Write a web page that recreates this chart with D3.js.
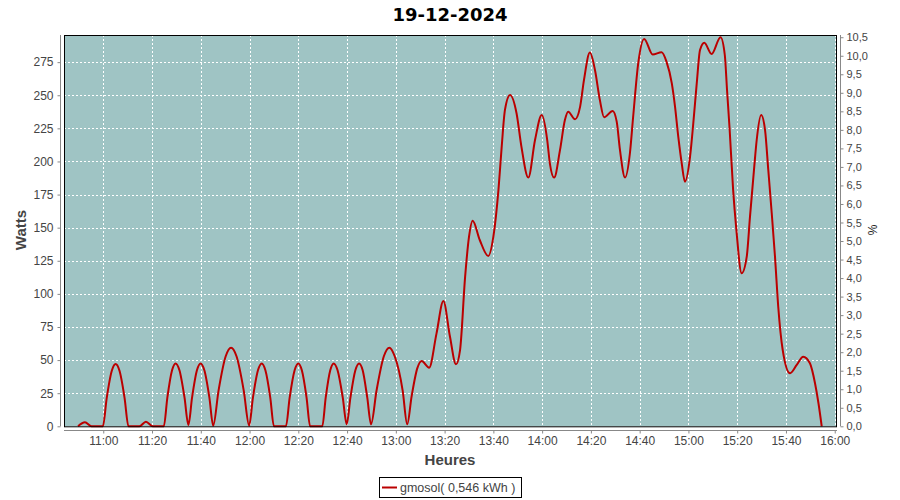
<!DOCTYPE html>
<html><head><meta charset="utf-8">
<script src="https://cdn.jsdelivr.net/npm/d3@7"></script>
<style>body{margin:0;background:#fff}svg{display:block}</style>
</head><body><svg id="c" width="900" height="500"></svg>
<script>
const title = "19-12-2024";
const seriesName = "gmosol( 0,546 kWh )";
const times = ["10:49:40","10:52:30","10:55:10","10:59:50","11:01:25","11:03:30","11:05:05","11:06:40","11:08:45","11:10:20","11:14:50","11:17:30","11:20:20","11:24:50","11:26:17","11:28:13","11:29:40","11:31:15","11:33:20","11:34:55","11:36:25","11:38:25","11:39:55","11:41:28","11:43:32","11:45:05","11:47:17","11:50:13","11:52:25","11:54:39","11:57:37","11:59:50","12:01:23","12:03:27","12:05:00","12:06:30","12:08:30","12:10:00","12:14:55","12:16:27","12:18:29","12:20:00","12:21:27","12:23:23","12:24:50","12:29:50","12:31:14","12:33:06","12:34:30","12:36:06","12:38:14","12:39:50","12:41:22","12:43:24","12:44:55","12:46:24","12:48:17","12:49:50","12:52:05","12:55:05","12:57:20","12:59:32","13:02:48","13:04:40","13:06:27","13:08:49","13:10:35","13:13:40","13:16:40","13:19:30","13:22:10","13:24:40","13:26:20","13:28:25","13:30:00","13:31:30","13:34:25","13:37:55","13:40:00","13:42:05","13:43:25","13:44:45","13:46:50","13:49:30","13:51:30","13:54:20","13:57:05","13:59:50","14:02:05","14:03:10","14:04:55","14:07:20","14:09:20","14:10:40","14:13:30","14:15:35","14:17:10","14:19:35","14:21:40","14:23:40","14:25:25","14:28:55","14:30:35","14:31:55","14:34:00","14:36:00","14:37:20","14:39:25","14:41:50","14:45:20","14:49:00","14:51:00","14:53:10","14:54:30","14:55:50","14:57:15","14:58:35","15:00:40","15:02:00","15:03:25","15:04:45","15:06:30","15:09:30","15:13:10","15:14:55","15:15:50","15:16:55","15:18:20","15:19:40","15:21:50","15:23:55","15:25:15","15:27:00","15:28:00","15:29:50","15:31:25","15:32:45","15:34:10","15:35:30","15:36:50","15:38:40","15:41:40","15:44:25","15:47:05","15:49:50","15:51:55","15:53:20","15:54:40"];
const watts = [0,3,0,0,21.3,41.9,47,41.9,21.3,0,0,3.4,0,0,21.6,42.3,47.5,42.3,21.6,1,21.6,42.3,47.5,42.3,21.6,0.5,27,52.9,59.4,52.9,27,0.5,21.6,42.3,47.5,42.3,21.6,0,0,21.6,42.3,47.5,42.3,21.6,0,0,21.6,42.3,47.5,42.3,21.6,1.5,21.6,42.3,47.5,42.3,21.6,1.5,27,52.9,59.4,52.9,27,1.5,22.4,43.9,49.3,44.3,70,94.6,68,46.8,57.6,113,143,155.3,140.7,128.6,143.2,178.5,211.2,238.9,250.2,236.4,211.2,187.8,216.2,235.1,216.2,198.6,187.8,208.7,231.3,237.6,231.9,241.4,261.6,282.2,269.1,246.5,233.4,238.1,230.1,208.7,187.8,206.2,233.8,274.2,292.5,280.8,282.5,275.4,259.1,241.4,218.7,198.6,184.7,203.6,228.9,259.1,284.2,289.7,281.2,293.8,280.4,254,223.8,178.5,148.3,115.6,128.1,158.3,196.1,216.2,235.1,223.8,193.6,160.9,128.1,90.3,57.6,40,46.3,52.6,47.6,32.5,17.4,0];
const xTickTimes = ["11:00","11:20","11:40","12:00","12:20","12:40","13:00","13:20","13:40","14:00","14:20","14:40","15:00","15:20","15:40","16:00"];
const wattTicks = [0,25,50,75,100,125,150,175,200,225,250,275];
const pctTicks = [0,0.5,1,1.5,2,2.5,3,3.5,4,4.5,5,5.5,6,6.5,7,7.5,8,8.5,9,9.5,10,10.5];

const parse = d3.timeParse("%Y-%m-%d %H:%M:%S");
const day = "2024-12-19 ";
const P = t => parse(day + (t.length === 5 ? t + ":00" : t));
const data = times.map((t, i) => ({t: P(t), v: watts[i]}));

const L = 64, R = 837, T = 35, B = 426.3;
const svg = d3.select("#c");
const x = d3.scaleTime().domain([P("10:43:54"), P("16:00:56")]).range([L, R]);
const y = d3.scaleLinear().domain([0, 295.5]).range([B, T]);
const y2 = d3.scaleLinear().domain([0, 10.56]).range([B, T]);

svg.append("rect").attr("x", L).attr("y", T).attr("width", R - L).attr("height", B - T).attr("fill", "#9fc4c4");

const grid = svg.append("g").attr("stroke", "#fff").attr("stroke-width", 1).attr("stroke-dasharray", "2,2");
xTickTimes.forEach(t => { const xx = Math.round(x(P(t))) + 0.5;
  grid.append("line").attr("x1", xx).attr("x2", xx).attr("y1", T).attr("y2", B); });
wattTicks.filter(d => d > 0).forEach(d => { const yy = Math.round(y(d)) + 0.5;
  grid.append("line").attr("x1", L).attr("x2", R).attr("y1", yy).attr("y2", yy); });

const line = d3.line().x(d => x(d.t)).y(d => y(d.v)).curve(d3.curveMonotoneX);
svg.append("path").datum(data).attr("d", line).attr("fill", "none").attr("stroke", "#bb0000").attr("stroke-width", 2);

svg.append("rect").attr("x", L + 0.5).attr("y", T + 0.5).attr("width", R - L - 1).attr("height", B - T).attr("fill", "none").attr("stroke", "#000");

const font = "Liberation Sans, Arial, sans-serif";
const ax = d3.axisLeft(y).tickValues(wattTicks).tickSize(3).tickPadding(4).tickFormat(d3.format("d"));
const gl = svg.append("g").attr("transform", "translate(60.5,0)").call(ax);
const ax2 = d3.axisRight(y2).tickValues(pctTicks).tickSize(3).tickPadding(3).tickFormat(d => d3.format(".1f")(d).replace(".", ","));
const gr = svg.append("g").attr("transform", "translate(840.5,0)").call(ax2);
const ax3 = d3.axisBottom(x).tickValues(xTickTimes.map(P)).tickSize(3).tickPadding(3).tickFormat(d3.timeFormat("%H:%M"));
const gb = svg.append("g").attr("transform", "translate(0,430.5)").call(ax3);
gb.select(".domain").attr("d", `M${L},0H${R}`);
gl.select(".domain").attr("d", `M0,${T}V${B}`);
gr.select(".domain").attr("d", `M0,${T}V${B}`);
[gl, gr, gb].forEach(g => {
  g.select(".domain").attr("stroke", "#888");
  g.selectAll(".tick line").attr("stroke", "#888");
  g.selectAll(".tick text").attr("fill", "#444").attr("font-family", font).attr("font-size", 12);
});
gr.selectAll(".tick text").attr("font-size", 11);

svg.append("text").attr("x", 450).attr("y", 21).attr("text-anchor", "middle").attr("font-family", "DejaVu Sans, sans-serif").attr("font-weight", "bold").attr("font-size", 18).attr("fill", "#000").text(title);
svg.append("text").attr("transform", "translate(26,230) rotate(-90)").attr("text-anchor", "middle").attr("font-family", font).attr("font-weight", "bold").attr("font-size", 15).attr("fill", "#444").text("Watts");
svg.append("text").attr("x", 450).attr("y", 465).attr("text-anchor", "middle").attr("font-family", font).attr("font-weight", "bold").attr("font-size", 15).attr("fill", "#444").text("Heures");
svg.append("text").attr("transform", "translate(877,230) rotate(-90)").attr("text-anchor", "middle").attr("font-family", font).attr("font-size", 12).attr("fill", "#222").text("%");

svg.append("rect").attr("x", 379.5).attr("y", 477.5).attr("width", 142).attr("height", 20).attr("fill", "#fff").attr("stroke", "#000");
svg.append("line").attr("x1", 382).attr("x2", 397).attr("y1", 487.5).attr("y2", 487.5).attr("stroke", "#bb0000").attr("stroke-width", 2);
svg.append("text").attr("x", 400).attr("y", 492).attr("font-family", font).attr("font-size", 12.5).attr("fill", "#444").text(seriesName);
</script></body></html>
